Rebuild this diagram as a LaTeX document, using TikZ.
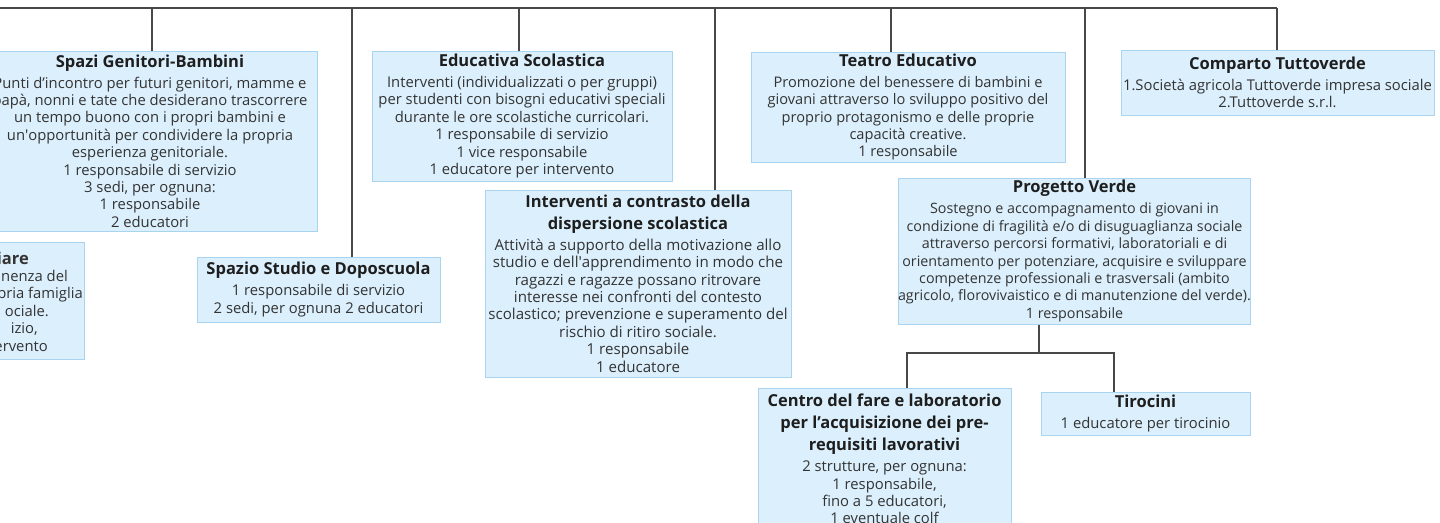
\documentclass[tikz,border=0pt]{standalone}
\usepackage{fontspec}
\setmainfont{Open Sans}
\definecolor{boxfill}{HTML}{DBEFFC}
\definecolor{boxline}{HTML}{A8D4F0}
\definecolor{connc}{HTML}{484848}
\definecolor{txt}{HTML}{333333}
\definecolor{ttl}{HTML}{1E1E1E}
\newcommand\bodyfs[1]{\fontsize{#1}{17.4}\selectfont}
\newcommand\titlef{\fontsize{16.5}{22}\selectfont\bfseries\color{ttl}}
\tikzset{
  orgbox/.style={draw=boxline, fill=boxfill, line width=1, inner sep=0pt,
    align=center, font=\bodyfs{14.8}, text=txt},
  connector/.style={draw=connc, line width=1.4},
  frag/.style={anchor=base east, inner sep=0pt, font=\bodyfs{14.8}, text=txt}
}
\begin{document}
\begin{tikzpicture}[x=1pt,y=-1pt]
\useasboundingbox (0,0) rectangle (1440,522);
\clip (0,0) rectangle (1440,522);

% boxes
\node[orgbox, minimum width=334, minimum height=180] (sgb) at (150,141)
 {{\titlef Spazi Genitori-Bambini}\\[3.6pt]
  Punti d’incontro per futuri genitori, mamme e\\
  papà, nonni e tate che desiderano trascorrere\\
  un tempo buono con i propri bambini e\\
  un\textquotesingle opportunità per condividere la propria\\
  esperienza genitoriale.\\
  1 responsabile di servizio\\
  3 sedi, per ognuna:\\
  1 responsabile\\
  2 educatori};

\node[orgbox, minimum width=234, minimum height=117] (lbox) at (-33,300.5) {};
\node[frag, font=\titlef] (l0) at (29,264) {iare};
\node[frag] (l1) at (68,281) {nenza del};
\node[frag] (l2) at (83,298.5) {pria famiglia};
\node[frag] (l3) at (49,316) {ociale.};
\node[frag] (l4) at (38,333.5) {izio,};
\node[frag] (l5) at (48,351) {ervento};

\node[orgbox, minimum width=243, minimum height=65] (ssd) at (318.5,289.5)
 {{\titlef Spazio Studio e Doposcuola}\\[3.6pt]
  1 responsabile di servizio\\
  2 sedi, per ognuna 2 educatori};

\node[orgbox, minimum width=300, minimum height=130] (esc) at (522,116)
 {{\titlef Educativa Scolastica}\\[3.6pt]
  Interventi (individualizzati o per gruppi)\\
  per studenti con bisogni educativi speciali\\
  durante le ore scolastiche curricolari.\\
  1 responsabile di servizio\\
  1 vice responsabile\\
  1 educatore per intervento};

\node[orgbox, minimum width=306, minimum height=187, font=\bodyfs{15.1}] (itc) at (638,283.5)
 {{\titlef Interventi a contrasto della}\\[4.6pt]
  {\titlef dispersione scolastica}\\[3.6pt]
  Attività a supporto della motivazione allo\\
  studio e dell\textquotesingle apprendimento in modo che\\
  ragazzi e ragazze possano ritrovare\\
  interesse nei confronti del contesto\\
  scolastico; prevenzione e superamento del\\
  rischio di ritiro sociale.\\
  1 responsabile\\
  1 educatore};

\node[orgbox, minimum width=314, minimum height=110, font=\bodyfs{14.6}] (teatro) at (908,107)
 {{\titlef Teatro Educativo}\\[3.6pt]
  Promozione del benessere di bambini e\\
  giovani attraverso lo sviluppo positivo del\\
  proprio protagonismo e delle proprie\\
  capacità creative.\\
  1 responsabile};

\node[orgbox, minimum width=313, minimum height=65] (comp) at (1277.5,82.5)
 {{\titlef Comparto Tuttoverde}\\[3.6pt]
  1.Società agricola Tuttoverde impresa sociale\\
  2.Tuttoverde s.r.l.};

\node[orgbox, minimum width=349, minimum height=146, font=\bodyfs{14.3}] (pv) at (1074.5,251)
 {{\titlef Progetto Verde}\\[3.6pt]
  Sostegno e accompagnamento di giovani in\\
  condizione di fragilità e/o di disuguaglianza sociale\\
  attraverso percorsi formativi, laboratoriali e di\\
  orientamento per potenziare, acquisire e sviluppare\\
  competenze professionali e trasversali (ambito\\
  agricolo, florovivaistico e di manutenzione del verde).\\
  1 responsabile};

\node[orgbox, minimum width=253, minimum height=142] (centro) at (884.5,459)
 {{\titlef Centro del fare e laboratorio}\\[4.6pt]
  {\titlef per l’acquisizione dei pre-}\\[4.6pt]
  {\titlef requisiti lavorativi}\\[3.6pt]
  2 strutture, per ognuna:\\
  1 responsabile,\\
  fino a 5 educatori,\\
  1 eventuale colf};

\node[orgbox, minimum width=209, minimum height=43] (tiro) at (1145.5,413.5)
 {{\titlef Tirocini}\\[3.6pt]
  1 educatore per tirocinio};

% connectors
\coordinate (tl) at (-5,8);
\coordinate (t1) at (152,8);
\coordinate (t2) at (352,8);
\coordinate (t3) at (519,8);
\coordinate (t4) at (715,8);
\coordinate (t5) at (891,8);
\coordinate (t6) at (1085,8);
\coordinate (t7) at (1277,8);
\draw[connector] (tl) -- (t7);
\draw[connector] (t1) -- (t1 |- sgb.north);
\draw[connector] (t2) -- (t2 |- ssd.north);
\draw[connector] (t3) -- (t3 |- esc.north);
\draw[connector] (t4) -- (t4 |- itc.north);
\draw[connector] (t5) -- (t5 |- teatro.north);
\draw[connector] (t6) -- (t6 |- pv.north);
\draw[connector] (t7) -- (t7 |- comp.north);

\coordinate (b0) at (1039,353);
\coordinate (b1) at (907,353);
\coordinate (b2) at (1114,353);
\draw[connector] (b0 |- pv.south) -- (b0);
\draw[connector] (b1 |- centro.north) -- (b1) -- (b2) -- (b2 |- tiro.north);
\end{tikzpicture}
\end{document}
